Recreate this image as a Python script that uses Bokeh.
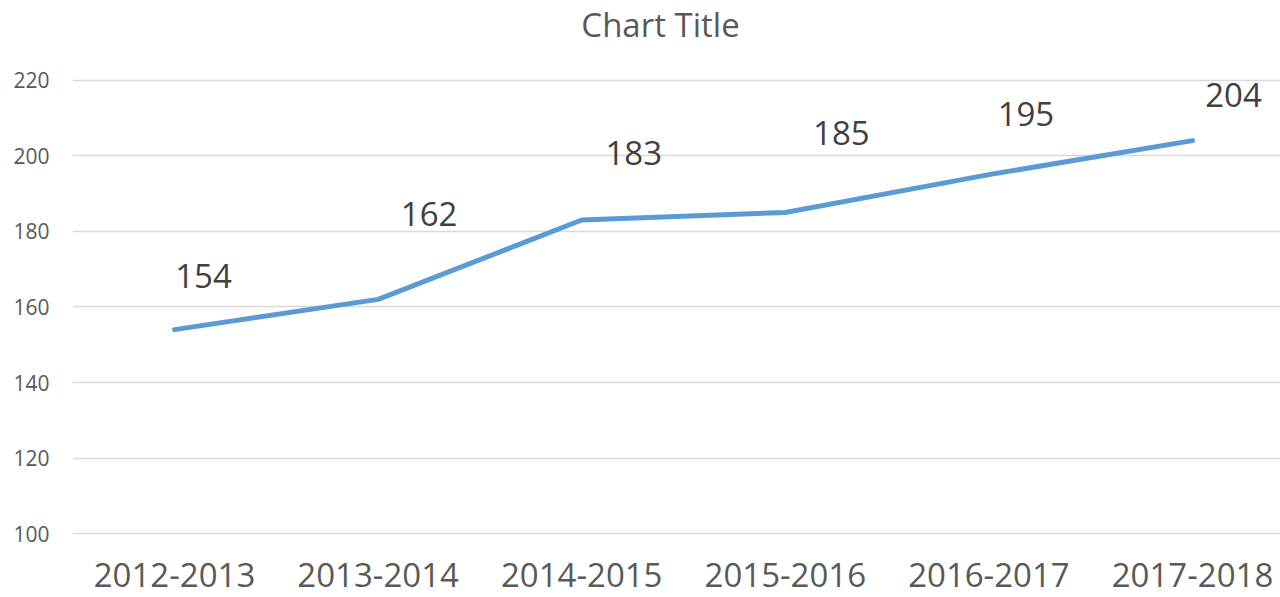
from bokeh.plotting import figure
from bokeh.models import ColumnDataSource, Range1d, FixedTicker, Label
from bokeh.embed import file_html
from bokeh.resources import INLINE
from bokeh.core.properties import value

# ---- data ----
periods = ["2012-2013", "2013-2014", "2014-2015", "2015-2016", "2016-2017", "2017-2018"]
counts = [154, 162, 183, 185, 195, 204]
y_ticks = [100, 120, 140, 160, 180, 200, 220]
title_text = "Chart Title"

# ---- label placement (pixel offsets from each point, styling only) ----
label_dx = [29, 51, 52, 56, 37, 41]
label_dy = [-54, -85, -67, -79, -61, -46]

idx = list(range(len(periods)))
src = ColumnDataSource(dict(
    x=idx, y=counts, label=[str(c) for c in counts], dx=label_dx, dy=label_dy,
))

FONT = "Open Sans"

# frame spans the full height above the x-axis, so the title can sit inside it
p = figure(width=1280, height=597, output_backend="svg", toolbar_location=None,
           x_range=Range1d(-0.501, 5.432), y_range=Range1d(99.8, 241.07),
           min_border_left=72, min_border_right=0, min_border_top=0,
           min_border_bottom=63)

p.outline_line_color = None
p.background_fill_color = "white"
p.border_fill_color = "white"

# chart title (screen units, measured from the frame's bottom-left corner)
p.add_layout(Label(x=588, y=510, x_units="screen", y_units="screen",
                   text=title_text, text_align="center", text_baseline="alphabetic",
                   text_font=FONT, text_font_size="33px", text_color="#595959"))

p.line("x", "y", source=src, line_color="#5B9BD5", line_width=5,
       line_cap="round", line_join="round")

p.text("x", "y", text="label", source=src, x_offset="dx", y_offset="dy",
       text_align="center", text_baseline="alphabetic",
       text_font=value(FONT), text_font_size="33px", text_color="#404040")

# y axis
yax = p.yaxis[0]
yax.ticker = FixedTicker(ticks=y_ticks)
yax.axis_line_color = None
yax.major_tick_line_color = None
yax.minor_tick_line_color = None
yax.major_label_text_font = FONT
yax.major_label_text_font_size = "21px"
yax.major_label_text_color = "#595959"
yax.major_label_standoff = 17

# x axis
xax = p.xaxis[0]
xax.ticker = FixedTicker(ticks=idx)
xax.major_label_overrides = {i: s for i, s in zip(idx, periods)}
xax.axis_line_color = None
xax.major_tick_line_color = None
xax.minor_tick_line_color = None
xax.major_label_text_font = FONT
xax.major_label_text_font_size = "33px"
xax.major_label_text_color = "#595959"
xax.major_label_standoff = 22

p.xgrid.grid_line_color = None
p.ygrid.ticker = FixedTicker(ticks=y_ticks)
p.ygrid.grid_line_color = "#D9D9D9"
p.ygrid.grid_line_width = 1.5

open("out.html", "w").write(file_html(p, INLINE))
